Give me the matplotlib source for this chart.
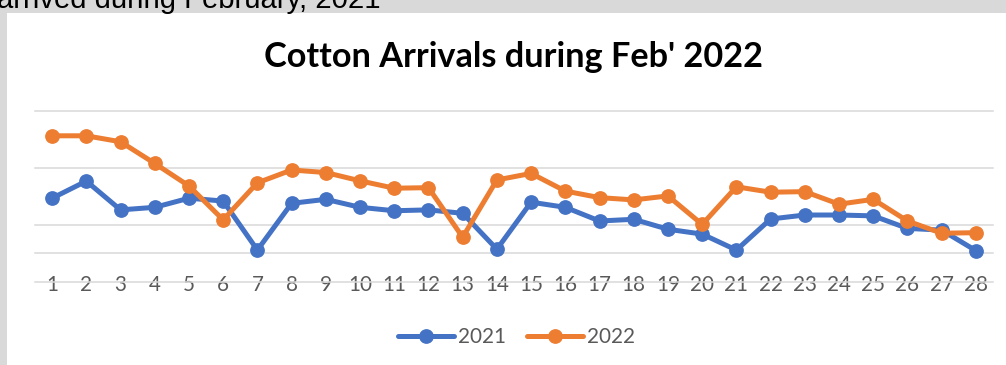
import matplotlib
matplotlib.use("Agg")
import matplotlib.pyplot as plt
from matplotlib.patches import Rectangle

days = list(range(1, 29))
arrivals_2021 = [29.4, 35.4, 25.3, 26.2, 29.4, 28.4, 11.2, 27.6, 29.0, 26.2,
                 25.0, 25.3, 24.1, 11.5, 28.0, 26.2, 21.4, 22.0, 18.5, 16.8,
                 11.2, 22.1, 23.5, 23.5, 23.2, 18.8, 18.2, 11.0]
arrivals_2022 = [51.3, 51.3, 49.2, 41.6, 33.7, 21.8, 34.8, 39.3, 38.4, 35.5,
                 32.9, 33.1, 15.7, 35.8, 38.1, 31.9, 29.6, 28.8, 30.2, 20.2,
                 33.4, 31.5, 31.7, 27.3, 29.0, 21.4, 17.1, 17.3]
grid_values = [0, 10, 20, 40, 60]
series_names = ["2021", "2022"]
title = "Cotton Arrivals during Feb' 2022"
top_text = "arrived during February, 2021"

W, H = 1006, 365
fig = plt.figure(figsize=(W / 100, H / 100), dpi=100, facecolor="#d9d9d9")
fig.patches.append(Rectangle((7 / W, 0), 1 - 7 / W, 1 - 13 / H, transform=fig.transFigure,
                             facecolor="white", edgecolor="none", zorder=-5))

fig.text(-3 / W, 1 - 8.5 / H, top_text, family="Liberation Sans", fontsize=21.1,
         color="black", va="baseline", ha="left")
fig.text(513.5 / W, 1 - 66.7 / H, title, family="Lato", fontweight="bold", fontsize=24.7,
         color="black", va="baseline", ha="center")

ax = fig.add_axes([35 / W, 1 - 283.4 / H, 958 / W, 172.4 / H])
ax.set_facecolor("none")
ax.set_xlim(0.5, 28.5)
ax.set_ylim(-0.5, 60)
ax.set_yticks(grid_values)
ax.set_yticklabels([])
ax.tick_params(axis="y", length=0)
ax.set_xticks(days)
ax.set_xticklabels([str(d) for d in days], family="Lato")
ax.tick_params(axis="x", length=0, pad=-6.4, labelsize=14.9, labelcolor="#595959")
for s in ax.spines.values():
    s.set_visible(False)
ax.grid(axis="y", color="#d9d9d9", linewidth=1.1)
for gl in ax.get_ygridlines():
    gl.set_clip_on(False)
ax.set_axisbelow(True)

l1, = ax.plot(days, arrivals_2021, color="#4472C4", lw=3.6, marker="o", markersize=9.6,
              label=series_names[0], clip_on=False, zorder=3, solid_capstyle="round")
l2, = ax.plot(days, arrivals_2022, color="#ED7D31", lw=3.6, marker="o", markersize=9.6,
              label=series_names[1], clip_on=False, zorder=4, solid_capstyle="round")

leg = fig.legend(handles=[l1, l2], loc="center", bbox_to_anchor=(516.5 / W, 1 - 337 / H),
                 ncol=2, frameon=False, handlelength=2.7, handletextpad=0.2,
                 columnspacing=1.0, prop={"family": "Lato", "size": 14.9})
for t in leg.get_texts():
    t.set_color("#595959")

fig.savefig("out.png", dpi=100, facecolor=fig.get_facecolor())
